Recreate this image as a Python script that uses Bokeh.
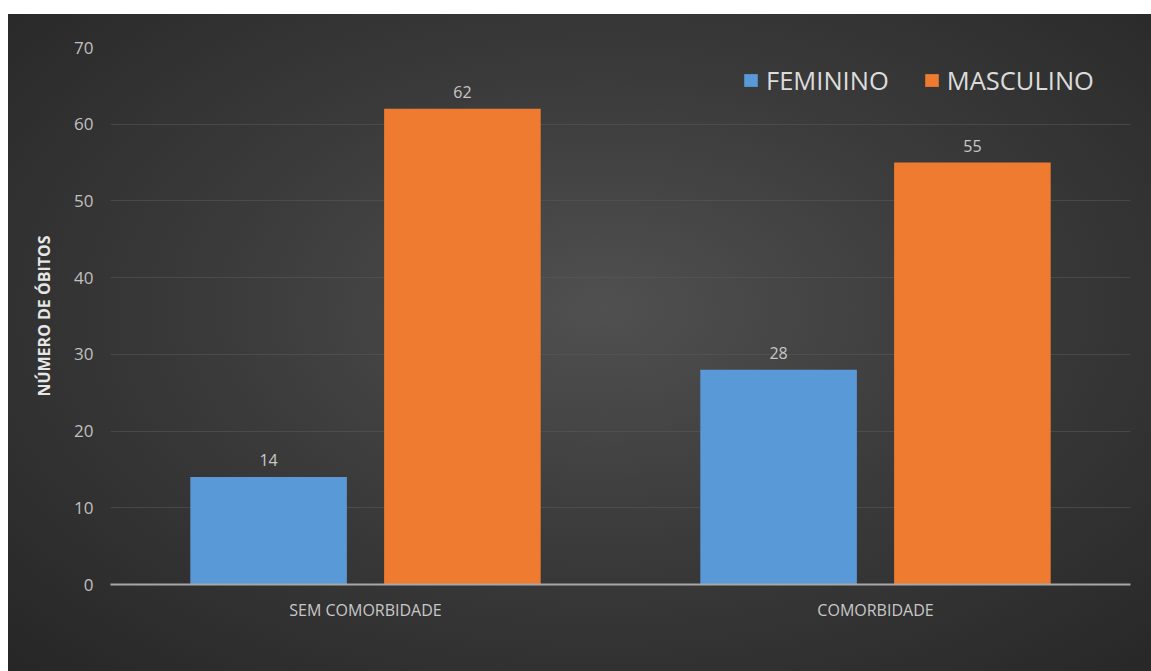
from bokeh.plotting import figure
from bokeh.models import ColumnDataSource, FactorRange, FixedTicker, LabelSet, Legend, LegendItem, Range1d
from bokeh.transform import dodge
from bokeh.core.properties import value
from bokeh.embed import file_html
from bokeh.resources import INLINE

categories = ["SEM COMORBIDADE", "COMORBIDADE"]
feminino = [14, 28]
masculino = [62, 55]
y_ticks = [0, 10, 20, 30, 40, 50, 60, 70]
series_names = ["FEMININO", "MASCULINO"]

src = ColumnDataSource(dict(cat=categories, fem=feminino, mas=masculino,
                            fem_lbl=[str(v) for v in feminino],
                            mas_lbl=[str(v) for v in masculino]))

FONT = "Open Sans"
p = figure(x_range=FactorRange(*categories), y_range=Range1d(0, 70),
           width=1143, height=657, output_backend="svg", toolbar_location=None,
           min_border_left=102, min_border_right=21, min_border_top=33, min_border_bottom=87)
p.margin = (14, 0, 0, 8)
p.styles = {"background": "radial-gradient(ellipse at 52% 45%, #505050 0%, #3b3b3b 45%, #262626 100%)"}
p.background_fill_alpha = 0
p.border_fill_alpha = 0
p.outline_line_color = None

r1 = p.vbar(x=dodge("cat", -0.19, range=p.x_range), top="fem", width=0.307, source=src,
            fill_color="#5999d8", line_color=None)
r2 = p.vbar(x=dodge("cat", 0.19, range=p.x_range), top="mas", width=0.307, source=src,
            fill_color="#ef7b30", line_color=None)

for col, lbl, off in (("fem", "fem_lbl", -0.19), ("mas", "mas_lbl", 0.19)):
    p.add_layout(LabelSet(x=dodge("cat", off, range=p.x_range), y=col, text=lbl, source=src,
                          text_align="center", text_baseline="bottom", y_offset=11,
                          text_font=value(FONT), text_font_size="16px", text_color="#c8c8c8"))

p.yaxis.ticker = FixedTicker(ticks=y_ticks)
p.yaxis.axis_line_color = None
p.yaxis.major_tick_line_color = None
p.yaxis.minor_tick_line_color = None
p.yaxis.major_label_text_font = FONT
p.yaxis.major_label_text_font_size = "17px"
p.yaxis.major_label_text_color = "#c0c0c0"
p.yaxis.major_label_standoff = 11
p.yaxis.axis_label = "NÚMERO DE ÓBITOS"
p.yaxis.axis_label_text_font = FONT
p.yaxis.axis_label_text_font_style = "bold"
p.yaxis.axis_label_text_font_size = "16px"
p.yaxis.axis_label_text_color = "#e6e6e6"
p.yaxis.axis_label_standoff = 16

p.xaxis.axis_line_color = "#a8a8a8"
p.xaxis.axis_line_width = 2
p.xaxis.major_tick_line_color = None
p.xaxis.minor_tick_line_color = None
p.xaxis.major_label_text_font = FONT
p.xaxis.major_label_text_font_size = "16px"
p.xaxis.major_label_text_color = "#c8c8c8"
p.xaxis.major_label_standoff = 8

p.xgrid.grid_line_color = None
p.ygrid.grid_line_color = "#5a5a5a"
p.ygrid.grid_line_alpha = 0.55

legend = Legend(items=[LegendItem(label=series_names[0], renderers=[r1]),
                       LegendItem(label=series_names[1], renderers=[r2])],
                orientation="horizontal", location=(632, 487),
                background_fill_alpha=0, border_line_color=None,
                padding=0, margin=0, spacing=34, label_standoff=7,
                glyph_width=17, glyph_height=16, label_height=32,
                label_text_font=FONT, label_text_font_size="25.5px", label_text_color="#dcdcdc")
p.add_layout(legend)

open("out.html", "w").write(file_html(p, INLINE))
